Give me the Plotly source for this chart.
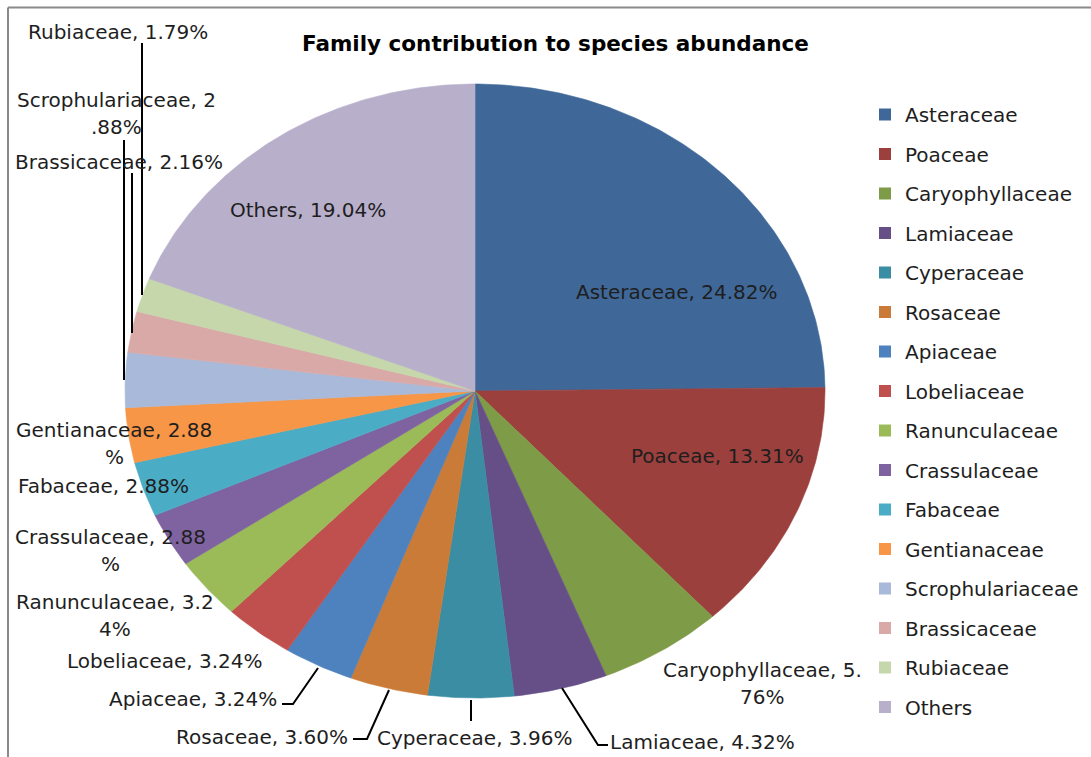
import numpy as np
import plotly.graph_objects as go

# ---- data -------------------------------------------------------------
families = [
    "Asteraceae", "Poaceae", "Caryophyllaceae", "Lamiaceae", "Cyperaceae",
    "Rosaceae", "Apiaceae", "Lobeliaceae", "Ranunculaceae", "Crassulaceae",
    "Fabaceae", "Gentianaceae", "Scrophulariaceae", "Brassicaceae",
    "Rubiaceae", "Others",
]
shares = [
    24.82, 13.31, 5.76, 4.32, 3.96,
    3.60, 3.24, 3.24, 3.24, 2.88,
    2.88, 2.88, 2.88, 2.16,
    1.79, 19.04,
]
colors = [
    "#3F6899", "#9C403D", "#7E9B48", "#664F87", "#3B8DA4",
    "#CB7B38", "#4D82BE", "#C0504D", "#9BBB59", "#7F63A1",
    "#4BACC6", "#F79646", "#A9B9D9", "#D9A9A8",
    "#C5D7AB", "#B8AFCB",
]
title_text = "Family contribution to species abundance"

# ---- layout constants (pixel space) -----------------------------------
W, H = 1091, 757
CX, CY, RX, RY = 475, 391, 350, 307          # pie centre and radii
FONT = "DejaVu Sans"
TXT = "#1e1e1e"
LINE_GAP = 27

# where each data label sits (centre of first text line)
LABEL_AT = {
    "Asteraceae": (677, 292), "Poaceae": (717, 456),
    "Caryophyllaceae": (762, 670), "Lamiaceae": (702, 742),
    "Cyperaceae": (474, 738), "Rosaceae": (262, 737),
    "Apiaceae": (193, 699), "Lobeliaceae": (165, 661),
    "Ranunculaceae": (115, 602), "Crassulaceae": (110, 537),
    "Fabaceae": (103, 486), "Gentianaceae": (114, 430),
    "Scrophulariaceae": (116, 100), "Brassicaceae": (119, 162),
    "Rubiaceae": (118, 32), "Others": (308, 210),
}
# labels that wrap: number of trailing characters moved to a second line
WRAP_TAIL = {"Caryophyllaceae": 3, "Scrophulariaceae": 4, "Gentianaceae": 1,
             "Crassulaceae": 1, "Ranunculaceae": 2}
# leader lines joining outside labels to their slices
LEADERS = {
    "Rubiaceae": [(142, 43), (142, 295)],
    "Scrophulariaceae": [(124, 140), (124, 380)],
    "Brassicaceae": [(132, 173), (132, 333)],
    "Cyperaceae": [(471, 700), (471, 721)],
    "Rosaceae": [(389, 690), (367, 739), (353, 739)],
    "Apiaceae": [(318, 668), (293, 704), (282, 704)],
    "Lamiaceae": [(562, 688), (598, 745), (608, 745)],
}

fig = go.Figure()

# ---- pie slices, clockwise from 12 o'clock ----------------------------
total = float(sum(shares))
edges = np.concatenate([[0.0], np.cumsum(shares)]) / total * 2 * np.pi
for i, (name, col) in enumerate(zip(families, colors)):
    t = np.linspace(edges[i], edges[i + 1], max(6, int((edges[i + 1] - edges[i]) * 90)))
    xs = np.concatenate([[CX], CX + RX * np.sin(t), [CX]])
    ys = np.concatenate([[CY], CY - RY * np.cos(t), [CY]])
    fig.add_trace(go.Scatter(
        x=xs, y=ys, fill="toself", fillcolor=col, mode="lines",
        line=dict(color=col, width=0.6), showlegend=False, hoverinfo="skip",
    ))

# ---- legend entries (square swatches) ---------------------------------
for name, col in zip(families, colors):
    fig.add_trace(go.Scatter(
        x=[None], y=[None], mode="markers", name=name, legendgroup=name,
        marker=dict(symbol="square", size=12, color=col),
    ))

# ---- data labels ------------------------------------------------------
for name, val in zip(families, shares):
    txt = f"{name}, {val:.2f}%"
    k = WRAP_TAIL.get(name)
    lines = [txt[:-k], txt[-k:]] if k else [txt]
    x0, y0 = LABEL_AT[name]
    for j, line in enumerate(lines):
        fig.add_annotation(
            x=x0, y=y0 + j * LINE_GAP, xref="x", yref="y", text=line,
            showarrow=False, xanchor="center", yanchor="middle",
            font=dict(family=FONT, size=20, color=TXT),
        )

for pts in LEADERS.values():
    path = "M " + " L ".join(f"{x},{y}" for x, y in pts)
    fig.add_shape(type="path", path=path, xref="x", yref="y",
                  line=dict(color="black", width=2))

# chart frame (top and left edges)
fig.add_shape(type="line", x0=8, y0=7.5, x1=W, y1=7.5, xref="x", yref="y",
              line=dict(color="#8a8a8a", width=2))
fig.add_shape(type="line", x0=8, y0=7.5, x1=8, y1=H, xref="x", yref="y",
              line=dict(color="#8a8a8a", width=2))

# title
fig.add_annotation(
    x=555, y=43, xref="x", yref="y", text=f"<b>{title_text}</b>",
    showarrow=False, xanchor="center", yanchor="middle",
    font=dict(family=FONT, size=21.5, color="black"),
)

fig.update_layout(
    width=W, height=H, margin=dict(l=0, r=0, t=0, b=0),
    paper_bgcolor="white", plot_bgcolor="white",
    xaxis=dict(range=[0, W], visible=False, domain=[0, 1]),
    yaxis=dict(range=[H, 0], visible=False, domain=[0, 1]),
    showlegend=True,
    legend=dict(
        x=865 / W, y=1 - 95 / H, xanchor="left", yanchor="top",
        font=dict(family=FONT, size=20, color=TXT),
        tracegroupgap=10.5, bgcolor="rgba(0,0,0,0)", itemclick=False,
    ),
    hovermode=False,
)

fig.write_html("out.html")
